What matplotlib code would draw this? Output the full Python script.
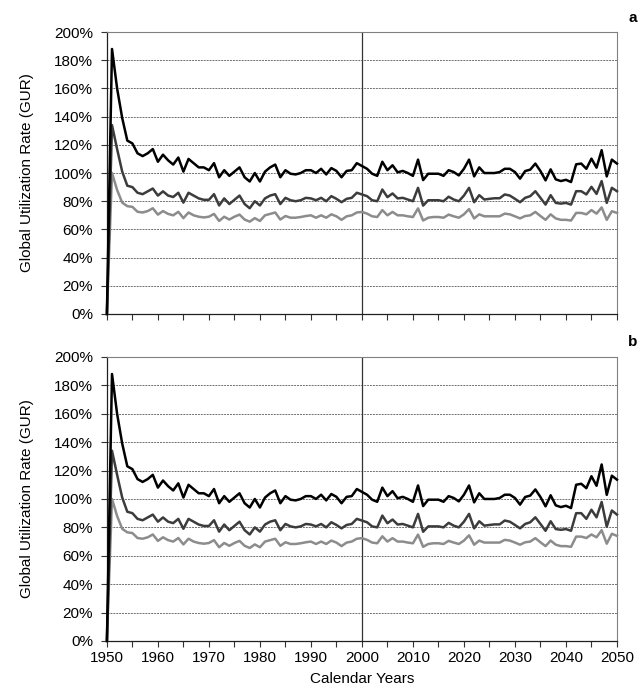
import numpy as np
import matplotlib.pyplot as plt
import matplotlib
from matplotlib.ticker import MultipleLocator, FuncFormatter

matplotlib.rcParams['font.family'] = ['Liberation Sans', 'DejaVu Sans']
matplotlib.rcParams['font.size'] = 11

years = np.arange(1950, 2051)

# panel a, values in percent
gur_high_a = [
    0, 188, 160, 139, 123, 121, 114, 112, 114, 117,
    108, 113, 109, 106, 111, 101, 110, 107, 104, 104,
    102, 107, 97, 102, 98, 101, 104, 97, 94, 100,
    94, 101, 104, 106, 97, 102, 99.5, 99, 100, 102,
    102, 100, 103, 99, 103.5, 101.5, 97, 101.5, 102, 107,
    105, 103, 99.5, 98, 108, 102, 105.5, 100.5, 101.5, 100,
    98, 109.5, 95, 99.5, 99.5, 99.5, 98, 102, 100.7, 98.3,
    103, 109.5, 97.6, 104, 100, 100, 100, 100.7, 103, 103,
    100.7, 96, 101.4, 102.4, 106.7, 101.4, 94.8, 102.6, 95.5, 94.3,
    95.2, 93.6, 106.2, 106.7, 103, 110.2, 103.8, 116.2, 97.6, 109.5,
    106.7,
]
gur_mid_a = [
    0, 134, 117, 101, 91, 90, 86, 85, 87, 89,
    84, 87, 84, 83, 86, 79, 86, 84, 82, 81,
    81, 85, 77, 82, 78, 81, 84, 78, 75, 80,
    77, 82, 84, 85, 78, 82.4, 80.7, 80, 80.7, 82.4,
    82, 80.7, 82.4, 80, 83.6, 81.7, 79.3, 81.7, 82.4, 86,
    84.8, 83.6, 80.7, 80, 88.3, 82.9, 85.5, 82, 82.4, 81.2,
    80, 89.5, 76.9, 80.7, 80.7, 80.7, 80, 83.2, 81.2, 80,
    84, 89.5, 79.3, 84.3, 81.2, 81.7, 82.1, 82.1, 84.8, 84,
    81.7, 79.3, 82.4, 83.6, 87.1, 82.4, 77.6, 84.3, 78.8, 78.3,
    78.8, 77.6, 87.1, 87.1, 84.8, 90.2, 85.2, 94.3, 78.8, 89.5,
    87.1,
]
gur_low_a = [
    0, 100, 88, 79, 76.5, 76, 72.5, 72, 73, 75,
    70.5, 73, 71, 70, 72.5, 68, 72, 70, 69, 68.5,
    69, 71, 66, 69, 67, 69, 70.5, 67, 65.5, 68,
    66, 70, 71, 72, 67, 69.5, 68.3, 68.3, 68.8, 69.5,
    70, 68.3, 70, 68.3, 70.7, 69.3, 66.8, 69.3, 70, 72,
    72.4, 71.2, 69.3, 68.8, 73.7, 70, 72.4, 70, 70, 69.3,
    68.8, 74.9, 66.3, 68.3, 68.8, 68.8, 68.3, 70.5, 69.3, 68.3,
    70.7, 74.4, 67.8, 70.7, 69.3, 69.3, 69.3, 69.3, 71.2, 70.7,
    69.3, 67.8, 69.5, 70, 72.4, 69.5, 66.8, 70.7, 67.8, 66.8,
    66.8, 66.3, 71.7, 71.7, 70.7, 73.7, 71.2, 75.6, 66.8, 72.9,
    71.7,
]

# panel b follows panel a up to 2041, then differs
tail_start = 2042
gur_high_b_tail = [110, 110.7, 107.6, 116, 109.3, 124.3, 102.9, 116.4, 113.6]
gur_mid_b_tail = [90, 90, 86, 92.4, 87.1, 97.9, 80.5, 91.9, 89]
gur_low_b_tail = [73.5, 73.5, 72.5, 75, 73, 78, 68.5, 75.5, 74]

n_head = tail_start - 1950
gur_high_b = gur_high_a[:n_head] + gur_high_b_tail
gur_mid_b = gur_mid_a[:n_head] + gur_mid_b_tail
gur_low_b = gur_low_a[:n_head] + gur_low_b_tail

series_colors = ['#000000', '#3c3c3c', '#8c8c8c']

fig = plt.figure(figsize=(6.44, 6.91), dpi=100)
ax_a = fig.add_axes([0.166, 0.5456, 0.792, 0.408])
ax_b = fig.add_axes([0.166, 0.0724, 0.792, 0.411])


def style_panel(ax, show_xlabels):
    ax.set_xlim(1950, 2050)
    ax.set_ylim(0, 200)
    ax.yaxis.set_major_locator(MultipleLocator(20))
    ax.yaxis.set_major_formatter(FuncFormatter(lambda v, p: f'{v:.0f}%'))
    ax.xaxis.set_major_locator(MultipleLocator(10))
    ax.xaxis.set_minor_locator(MultipleLocator(5))
    ax.tick_params(axis='both', which='both', direction='out', length=4,
                   width=0.8, color='#333333', pad=3)
    ax.tick_params(axis='y', pad=6)
    if not show_xlabels:
        ax.tick_params(axis='x', labelbottom=False)
    for y in range(20, 200, 20):
        ax.axhline(y, color='#707070', lw=0.7, ls=(0, (2, 1)), zorder=1)
    ax.axvline(2000, color='#333333', lw=0.9, zorder=1)
    for side in ['top', 'right']:
        ax.spines[side].set_color('#808080')
        ax.spines[side].set_linewidth(0.8)
    for side in ['left', 'bottom']:
        ax.spines[side].set_color('#202020')
        ax.spines[side].set_linewidth(0.9)
    ax.set_ylabel('Global Utilization Rate (GUR)')
    ax.yaxis.set_label_coords(-0.143, 0.5)


for ax, data in [(ax_a, [gur_high_a, gur_mid_a, gur_low_a]),
                 (ax_b, [gur_high_b, gur_mid_b, gur_low_b])]:
    for vals, col in zip(data[::-1], series_colors[::-1]):
        ax.plot(years, vals, color=col, lw=1.8, zorder=3, clip_on=False)

style_panel(ax_a, False)
style_panel(ax_b, True)
ax_b.set_xlabel('Calendar Years', labelpad=5)

fig.text(0.982, 0.974, 'a', fontsize=11, fontweight='bold', ha='center', va='center')
fig.text(0.982, 0.505, 'b', fontsize=11, fontweight='bold', ha='center', va='center')

fig.savefig('out.png', dpi=100)
